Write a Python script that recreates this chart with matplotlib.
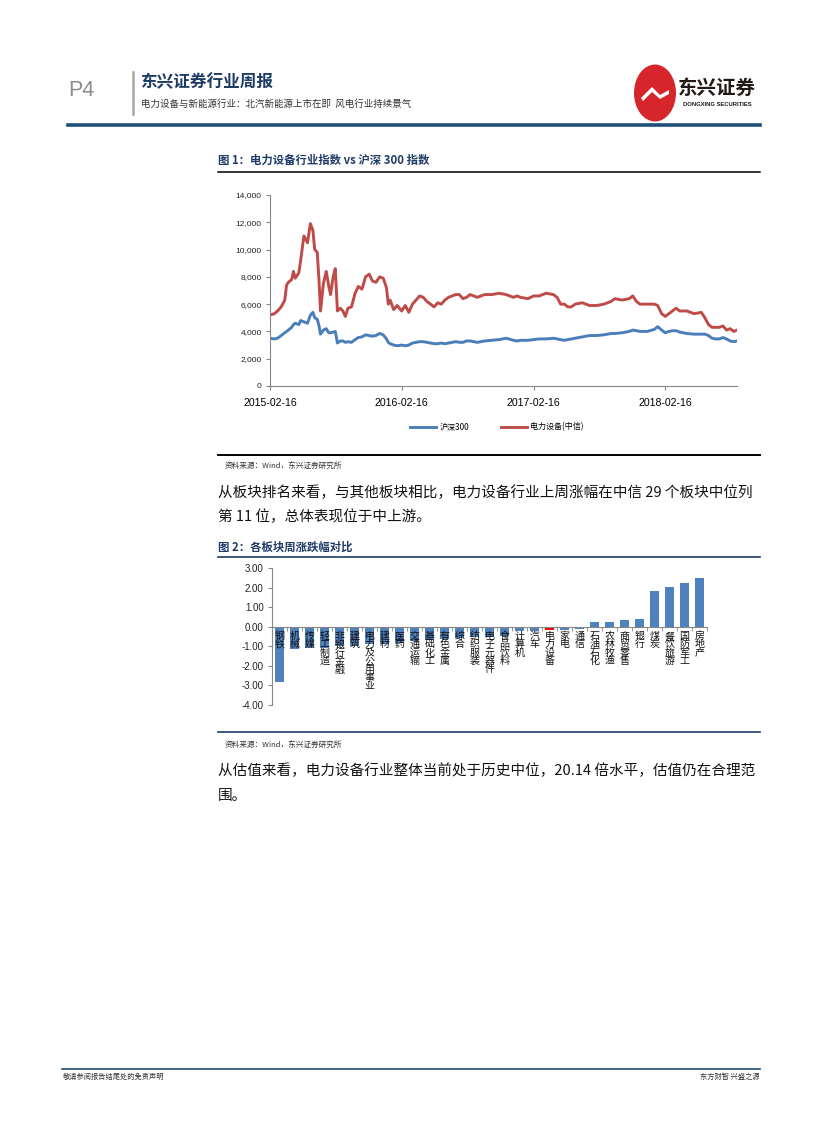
import matplotlib
matplotlib.use('Agg')
import matplotlib.pyplot as plt
from matplotlib.lines import Line2D
from matplotlib.patches import Circle, Polygon
from matplotlib.ticker import FuncFormatter, FixedLocator
import numpy as np
import pandas as pd

plt.rcParams['font.family'] = ['Noto Sans CJK SC', 'DejaVu Sans']

# ---------------- data ----------------
dates = [
    '2015-02-16', '2015-02-28', '2015-03-09', '2015-03-19', '2015-03-29', '2015-04-03',
    '2015-04-08', '2015-04-17', '2015-04-22', '2015-04-27', '2015-05-07', '2015-05-12',
    '2015-05-21', '2015-05-31', '2015-06-08', '2015-06-15', '2015-06-20', '2015-06-27',
    '2015-07-02', '2015-07-06', '2015-07-14', '2015-07-22', '2015-07-29', '2015-08-03',
    '2015-08-10', '2015-08-16', '2015-08-22', '2015-08-30', '2015-09-06', '2015-09-13',
    '2015-09-20', '2015-09-30', '2015-10-10', '2015-10-19', '2015-10-29', '2015-11-08',
    '2015-11-18', '2015-11-27', '2015-12-07', '2015-12-17', '2015-12-27', '2016-01-05',
    '2016-01-10', '2016-01-15', '2016-01-25', '2016-02-04', '2016-02-16', '2016-02-26',
    '2016-03-07', '2016-03-17', '2016-03-27', '2016-04-06', '2016-04-16', '2016-04-26',
    '2016-05-06', '2016-05-16', '2016-05-26', '2016-06-05', '2016-06-15', '2016-06-25',
    '2016-07-05', '2016-07-15', '2016-07-25', '2016-08-04', '2016-08-14', '2016-08-24',
    '2016-09-03', '2016-09-13', '2016-09-23', '2016-10-03', '2016-10-23', '2016-11-12',
    '2016-12-02', '2016-12-22', '2017-01-01', '2017-01-11', '2017-01-31', '2017-02-16',
    '2017-03-03', '2017-03-23', '2017-04-12', '2017-04-22', '2017-05-02', '2017-05-12',
    '2017-05-22', '2017-06-01', '2017-06-11', '2017-07-01', '2017-07-11', '2017-07-21',
    '2017-08-10', '2017-08-30', '2017-09-19', '2017-09-29', '2017-10-19', '2017-11-08',
    '2017-11-18', '2017-11-28', '2017-12-08', '2017-12-28', '2018-01-17', '2018-01-26',
    '2018-02-06', '2018-02-16', '2018-02-26', '2018-03-08', '2018-03-18', '2018-03-28',
    '2018-04-17', '2018-05-07', '2018-05-27', '2018-06-06', '2018-06-16', '2018-06-26',
    '2018-07-06', '2018-07-16', '2018-07-26', '2018-08-05', '2018-08-15', '2018-08-25',
    '2018-09-03',
]
hs300 = [
    3500, 3450, 3500, 3700, 3900, 4000,
    4100, 4300, 4500, 4600, 4500, 4800,
    4700, 4600, 5200, 5400, 5000, 4900,
    4400, 3800, 4100, 4200, 3900, 3900,
    3950, 4000, 3150, 3300, 3300, 3200,
    3250, 3200, 3400, 3550, 3600, 3750,
    3700, 3650, 3700, 3850, 3750, 3450,
    3200, 3100, 3000, 2950, 3000, 2950,
    3000, 3150, 3200, 3250, 3250, 3200,
    3150, 3100, 3100, 3150, 3100, 3150,
    3200, 3250, 3200, 3200, 3300, 3300,
    3250, 3200, 3250, 3300, 3350, 3400,
    3500, 3350, 3300, 3350, 3350, 3400,
    3450, 3450, 3500, 3450, 3400, 3350,
    3400, 3450, 3500, 3600, 3650, 3700,
    3700, 3750, 3850, 3850, 3900, 4000,
    4100, 4050, 4000, 4000, 4150, 4350,
    4100, 3900, 4000, 4050, 4050, 3950,
    3850, 3800, 3800, 3800, 3700, 3500,
    3450, 3450, 3550, 3450, 3300, 3250,
    3300,
]
power_equipment = [
    5200, 5300, 5500, 5800, 6300, 7400,
    7600, 7800, 8400, 7900, 8300, 9200,
    11000, 10500, 11900, 11400, 10000, 9800,
    7700, 5500, 7500, 8400, 7300, 6700,
    8000, 8600, 5500, 5700, 5500, 5100,
    5700, 5800, 6800, 7300, 7100, 8000,
    8200, 7700, 7600, 8000, 7900, 7200,
    6000, 6300, 5600, 5900, 5500, 5900,
    5400, 6000, 6300, 6600, 6500, 6200,
    6000, 5800, 6100, 6000, 6300, 6500,
    6600, 6700, 6700, 6400, 6500, 6700,
    6600, 6500, 6600, 6700, 6700, 6800,
    6700, 6500, 6600, 6500, 6400, 6600,
    6600, 6800, 6700, 6500, 6000, 6000,
    5800, 5800, 6000, 6100, 6000, 5900,
    5900, 6000, 6200, 6400, 6300, 6400,
    6600, 6200, 6000, 6000, 6000, 5900,
    5300, 5100, 5300, 5500, 5700, 5500,
    5500, 5300, 5400, 5000, 4500, 4300,
    4300, 4300, 4400, 4100, 4200, 4000,
    4100,
]
x_tick_dates = ['2015-02-16', '2016-02-16', '2017-02-16', '2018-02-16']
y_ticks_1 = [0, 2000, 4000, 6000, 8000, 10000, 12000, 14000]
series_names = ['沪深300', '电力设备(中信)']

sectors = ['钢铁', '机械', '传媒', '轻工制造', '非银行金融', '建筑', '电力及公用事业',
           '建材', '医药', '交通运输', '基础化工', '有色金属', '综合', '纺织服装',
           '电子元器件', '食品饮料', '计算机', '汽车', '电力设备', '家电', '通信',
           '石油石化', '农林牧渔', '商贸零售', '银行', '煤炭', '餐饮旅游', '国防军工', '房地产']
weekly_change = [-2.85, -1.15, -1.08, -1.10, -0.98, -0.98, -0.90,
                 -0.86, -0.81, -0.73, -0.69, -0.64, -0.59, -0.53,
                 -0.50, -0.45, -0.22, -0.22, -0.15, -0.17, -0.12,
                 0.24, 0.24, 0.36, 0.41, 1.83, 2.03, 2.25, 2.51]
y_ticks_2 = [-4, -3, -2, -1, 0, 1, 2, 3]
highlight = '电力设备'

# ---------------- page ----------------
W, H = 827, 1122
fig = plt.figure(figsize=(W / 100, H / 100), dpi=100)
fig.patch.set_facecolor('white')


def fx(x):
    return x / W


def fy(y):
    return 1 - y / H


def ftext(x, y, s, **kw):
    fig.text(fx(x), fy(y), s, **kw)


def hline(x0, x1, y, color, lw):
    fig.add_artist(Line2D([fx(x0), fx(x1)], [fy(y), fy(y)], color=color, lw=lw,
                          transform=fig.transFigure))


NAVY = '#1F3B66'

# header
ftext(68, 90, 'P4', fontsize=15.5, color='#8C8C8C', va='center', ha='left',
      family=['Liberation Sans', 'DejaVu Sans'])
fig.add_artist(Line2D([fx(133), fx(133)], [fy(72), fy(114)], color='#A6A6A6', lw=1.8,
                      transform=fig.transFigure))
ftext(140, 82, '东兴证券行业周报', fontsize=12, fontweight='bold', color=NAVY, va='center')
ftext(141, 104, '电力设备与新能源行业：北汽新能源上市在即  风电行业持续景气', fontsize=6.8,
      color='#333333', va='center')
# logo
fig.add_artist(Circle((fx(655), fy(93)), 21 / W, transform=fig.transFigure,
                      facecolor='#D7262B', edgecolor='none'))
fig.add_artist(Polygon([[fx(641), fy(98)], [fx(652), fy(87)], [fx(660), fy(95)],
                        [fx(669), fy(90)], [fx(669), fy(94)], [fx(660), fy(99)],
                        [fx(652), fy(92)], [fx(643), fy(101)]],
                       closed=True, transform=fig.transFigure, facecolor='white',
                       edgecolor='none'))
ftext(717, 88, '东兴证券', fontsize=14, fontweight='bold', color='#231815', va='center',
      ha='center')
ftext(717, 104, 'DONGXING SECURITIES', fontsize=4.2, fontweight='bold', color='#231815',
      va='center', ha='center', family=['Liberation Sans', 'DejaVu Sans'])
hline(68, 760, 125, '#1F4E79', 2.6)

# ---------------- figure 1 ----------------
ftext(218, 160, '图 1：电力设备行业指数 vs 沪深 300 指数', fontsize=8.2, fontweight='bold',
      color=NAVY, va='center')
hline(218, 760, 172, '#000000', 1.1)

ax1 = fig.add_axes([fx(270), fy(386), fx(737) - fx(270), fy(195) - fy(386)])
d = pd.to_datetime(dates)
ax1.plot(d, hs300, color='#4A7EBB', lw=2.1, label=series_names[0], solid_joinstyle='round')
ax1.plot(d, power_equipment, color='#BE4B48', lw=2.1, label=series_names[1],
         solid_joinstyle='round')
ax1.set_ylim(0, 14000)
ax1.set_yticks(y_ticks_1)
ax1.yaxis.set_major_formatter(FuncFormatter(lambda v, p: f'{int(v):,}'))
ax1.set_xlim(d[0], d[-1])
ax1.set_xticks(pd.to_datetime(x_tick_dates))
ax1.set_xticklabels(x_tick_dates)
for lab in ax1.get_xticklabels():
    lab.set_family(['Liberation Sans', 'DejaVu Sans'])
    lab.set_fontsize(7.6)
for lab in ax1.get_yticklabels():
    lab.set_family(['Liberation Sans', 'DejaVu Sans'])
    lab.set_fontsize(6)
for s in ['top', 'right']:
    ax1.spines[s].set_visible(False)
for s in ['left', 'bottom']:
    ax1.spines[s].set_color('#868686')
    ax1.spines[s].set_linewidth(0.8)
ax1.tick_params(axis='y', length=3, color='#868686', pad=3, labelcolor='#222222')
ax1.tick_params(axis='x', length=3, color='#868686', pad=6, labelcolor='#000000')
fig.legend(loc='center', bbox_to_anchor=(fx(497), fy(427)), ncol=2, frameon=False,
           fontsize=5.8, handlelength=3.2, columnspacing=4, handletextpad=0.4)

hline(218, 760, 455, '#000000', 1.4)
ftext(225, 466, '资料来源：Wind，东兴证券研究所', fontsize=5.5, color='#333333', va='center')

ftext(218, 493, '从板块排名来看，与其他板块相比，电力设备行业上周涨幅在中信 29 个板块中位列',
      fontsize=10.5, color='#111111', va='center')
ftext(218, 517, '第 11 位，总体表现位于中上游。', fontsize=10.5, color='#111111', va='center')

# ---------------- figure 2 ----------------
ftext(218, 547, '图 2：各板块周涨跌幅对比', fontsize=8.2, fontweight='bold', color=NAVY,
      va='center')
hline(218, 760, 557, '#1F3B66', 1.2)

ax2 = fig.add_axes([fx(272), fy(705), fx(707) - fx(272), fy(568) - fy(705)])
xpos = np.arange(len(sectors))
colors = ['#FF0000' if s == highlight else '#4F81BD' for s in sectors]
ax2.bar(xpos, weekly_change, width=0.56, color=colors, zorder=2)
ax2.set_ylim(-4, 3)
ax2.set_xlim(-0.5, len(sectors) - 0.5)
ax2.set_yticks(y_ticks_2)
ax2.yaxis.set_major_formatter(FuncFormatter(lambda v, p: f'{v:.2f}'))
for lab in ax2.get_yticklabels():
    lab.set_family(['Liberation Sans', 'DejaVu Sans'])
    lab.set_fontsize(7)
for s in ['top', 'right']:
    ax2.spines[s].set_visible(False)
ax2.spines['left'].set_color('#868686')
ax2.spines['left'].set_linewidth(0.8)
ax2.spines['bottom'].set_position(('data', 0))
ax2.spines['bottom'].set_color('#868686')
ax2.spines['bottom'].set_linewidth(0.8)
ax2.set_xticks([])
ax2.xaxis.set_minor_locator(FixedLocator(np.arange(-0.5, len(sectors), 1.0)))
ax2.tick_params(axis='x', which='minor', length=3, color='#868686', direction='out')
ax2.tick_params(axis='y', length=3, color='#868686', pad=3, labelcolor='#222222')
for i, name in enumerate(sectors):
    ax2.annotate('\n'.join(name), xy=(i, 0), xytext=(0, -3), textcoords='offset points',
                 ha='center', va='top', fontsize=7.2, linespacing=0.8, color='#111111',
                 zorder=3)

hline(218, 760, 732, '#1F3B66', 1.2)
ftext(225, 745, '资料来源：Wind，东兴证券研究所', fontsize=5.5, color='#333333', va='center')

ftext(218, 771, '从估值来看，电力设备行业整体当前处于历史中位，20.14 倍水平，估值仍在合理范',
      fontsize=10.5, color='#111111', va='center')
ftext(218, 796, '围。', fontsize=10.5, color='#111111', va='center')

# footer
hline(62, 760, 1069, '#1F4E79', 1.2)
ftext(63, 1077, '敬请参阅报告结尾处的免责声明', fontsize=5.2, color='#333333', va='center')
ftext(760, 1077, '东方财智 兴盛之源', fontsize=5.2, color='#333333', va='center', ha='right')

fig.savefig('out.png', dpi=100, facecolor='white')
